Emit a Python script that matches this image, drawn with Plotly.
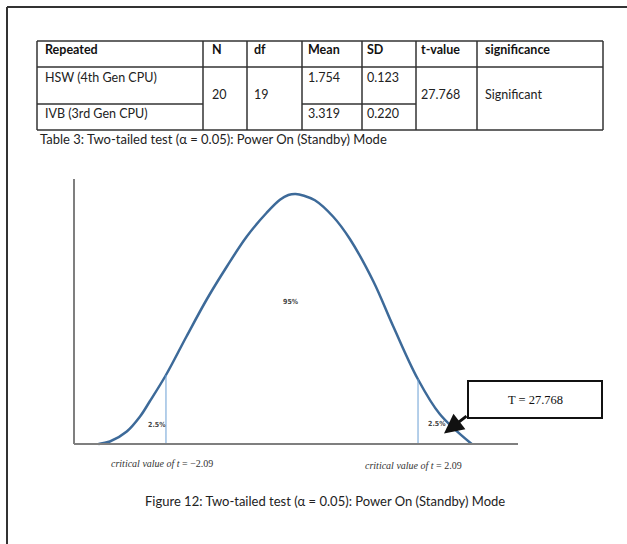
import numpy as np
import plotly.graph_objects as go

# ---- table contents ----
header = ["Repeated", "N", "df", "Mean", "SD", "t-value", "significance"]
groups = ["HSW (4th Gen CPU)", "IVB (3rd Gen CPU)"]
n_obs = ["20"]
dof = ["19"]
means = ["1.754", "3.319"]
sds = ["0.123", "0.220"]
t_value = ["27.768"]
significance = ["Significant"]
table_caption = "Table 3: Two-tailed test (α = 0.05): Power On (Standby) Mode"

# ---- bell curve outline (t units, relative height) ----
curve_t = [-3.21, -3.02, -2.74, -2.52, -2.36, -2.09, -1.75, -1.41, -1.08, -0.75,
           -0.42, -0.20, -0.06, 0.06, 0.20, 0.38, 0.68, 0.96, 1.35, 1.68, 2.08, 2.45, 2.98]
curve_h = [0.0, 0.01, 0.05, 0.11, 0.17, 0.276, 0.43, 0.58, 0.71, 0.83,
           0.925, 0.977, 0.996, 1.0, 0.993, 0.975, 0.91, 0.82, 0.65, 0.47, 0.263, 0.12, 0.0]
critical_t = [-2.09, 2.09]
region_labels = ["2.5%", "95%", "2.5%"]
region_t = [-2.24, -0.02, 2.40]
region_h = [0.076, 0.57, 0.08]
critical_labels = ["<i>critical value of t</i> = −2.09", "<i>critical value of t</i> = 2.09"]
observed_label = "T = 27.768"
figure_caption = "Figure 12: Two-tailed test (α = 0.05): Power On (Standby) Mode"

W, H = 627, 544
# pixel placement of the curve: centre column, pixels per t unit, baseline, peak height
X0, SX, Y0, SY = 292.0, 60.3, 444.0, 250.0


def px(x):
    return x / W


def py(y):
    return 1 - y / H


fig = go.Figure()

# curve
fig.add_trace(go.Scatter(
    x=curve_t, y=curve_h, mode="lines",
    line=dict(color="#3d6a99", width=2.5, shape="spline", smoothing=1.0),
    hoverinfo="skip", showlegend=False))

# critical value lines rising to the curve
for ct in critical_t:
    top = float(np.interp(ct, curve_t, curve_h))
    fig.add_trace(go.Scatter(
        x=[ct, ct], y=[0, top], mode="lines",
        line=dict(color="#6a9fd4", width=1),
        hoverinfo="skip", showlegend=False))

shapes = []
line_col = "#333333"

# page frame (left and top rules)
shapes.append(dict(type="line", xref="paper", yref="paper",
                   x0=px(7), x1=px(7), y0=py(7), y1=py(544),
                   line=dict(color=line_col, width=2)))
shapes.append(dict(type="line", xref="paper", yref="paper",
                   x0=px(7), x1=px(627), y0=py(7), y1=py(7),
                   line=dict(color=line_col, width=2)))

# chart axes
shapes.append(dict(type="line", xref="paper", yref="paper",
                   x0=px(74), x1=px(74), y0=py(179), y1=py(444),
                   line=dict(color="#7f7f7f", width=2)))
shapes.append(dict(type="line", xref="paper", yref="paper",
                   x0=px(74), x1=px(518), y0=py(444), y1=py(444),
                   line=dict(color="#7f7f7f", width=2)))

# table grid
col_x = [37, 203, 247, 302, 362, 416, 477, 603]
row_y = [41, 67, 104, 130]
for yy in (row_y[0], row_y[1], row_y[3]):
    shapes.append(dict(type="line", xref="paper", yref="paper",
                       x0=px(col_x[0]), x1=px(col_x[-1]), y0=py(yy), y1=py(yy),
                       line=dict(color=line_col, width=1.5)))
for a, b in ((0, 1), (3, 5)):
    shapes.append(dict(type="line", xref="paper", yref="paper",
                       x0=px(col_x[a]), x1=px(col_x[b]), y0=py(row_y[2]), y1=py(row_y[2]),
                       line=dict(color=line_col, width=1.5)))
for xx in col_x:
    shapes.append(dict(type="line", xref="paper", yref="paper",
                       x0=px(xx), x1=px(xx), y0=py(row_y[0]), y1=py(row_y[-1]),
                       line=dict(color=line_col, width=1.5)))

# callout box
shapes.append(dict(type="rect", xref="paper", yref="paper",
                   x0=px(468), x1=px(602), y0=py(381), y1=py(418),
                   line=dict(color="#111111", width=2), fillcolor="white"))

annotations = []
cell_font = dict(family="Lato, Open Sans, sans-serif", size=12.5, color="#222222")
bold_font = dict(family="Lato, Open Sans, sans-serif", size=12.5, color="#111111")
caption_font = dict(family="Lato, Open Sans, sans-serif", size=13, color="#222222")


def text_at(x, y, s, font, xanchor="left"):
    annotations.append(dict(xref="paper", yref="paper", x=px(x), y=py(y), text=s,
                            showarrow=False, xanchor=xanchor, yanchor="middle",
                            font=font))


text_x = [43, 210, 252, 306, 365, 419, 483]
for tx, h in zip(text_x, header):
    text_at(tx, 49, "<b>" + h + "</b>", bold_font)
text_at(text_x[0], 77, groups[0], cell_font)
text_at(text_x[0], 113, groups[1], cell_font)
text_at(text_x[1], 95, n_obs[0], cell_font)
text_at(text_x[2], 95, dof[0], cell_font)
text_at(text_x[3], 77, means[0], cell_font)
text_at(text_x[3], 113, means[1], cell_font)
text_at(text_x[4], 77, sds[0], cell_font)
text_at(text_x[4], 113, sds[1], cell_font)
text_at(text_x[5], 95, t_value[0], cell_font)
text_at(text_x[6], 95, significance[0], cell_font)
text_at(38, 139, table_caption, caption_font)

# region percentages
for lab, tt, hh in zip(region_labels, region_t, region_h):
    annotations.append(dict(x=tt, y=hh, xref="x", yref="y", text="<b>" + lab + "</b>",
                            showarrow=False,
                            font=dict(family="DejaVu Sans Condensed, sans-serif",
                                      size=7, color="#444444")))

# critical value captions below the axis
crit_font = dict(family="Liberation Serif, serif", size=10, color="#333333")
text_at(162, 463, critical_labels[0], crit_font, xanchor="center")
text_at(413, 465, critical_labels[1], crit_font, xanchor="center")

# observed statistic callout and arrow
text_at(535, 400, observed_label,
        dict(family="Liberation Serif, serif", size=12.5, color="#111111"),
        xanchor="center")
annotations.append(dict(xref="paper", yref="paper", x=px(444), y=py(433.5),
                        ax=24, ay=-18.5, text="", showarrow=True,
                        arrowhead=2, arrowsize=1.3, arrowwidth=3,
                        arrowcolor="#111111", standoff=0))

text_at(325, 501, figure_caption, caption_font, xanchor="center")

fig.update_layout(
    width=W, height=H,
    margin=dict(l=0, r=0, t=0, b=0),
    paper_bgcolor="white", plot_bgcolor="white",
    xaxis=dict(range=[-X0 / SX, (W - X0) / SX], visible=False, fixedrange=True),
    yaxis=dict(range=[(Y0 - H) / SY, Y0 / SY], visible=False, fixedrange=True),
    shapes=shapes, annotations=annotations, showlegend=False)

fig.write_html("out.html")
